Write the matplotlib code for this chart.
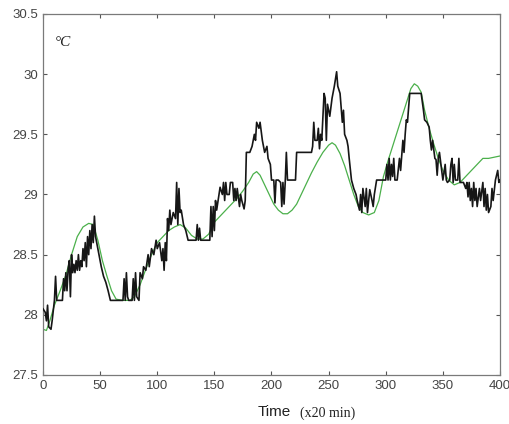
import numpy as np
import matplotlib.pyplot as plt

# %% DATA (time index in 20-min steps, temperature in deg C)
measured_t = [0, 2, 3, 4, 5, 7, 8, 10, 11, 12, 17, 18, 19, 20, 21, 22, 23, 24, 25, 26,
              27, 28, 29, 30, 31, 32, 33, 34, 35, 36, 37, 38, 39, 40, 41, 42, 43, 44, 45, 46,
              47, 49, 51, 53, 55, 57, 59,
              70, 71, 72, 73, 74, 75, 78, 79, 80, 81, 82, 84, 85, 87, 88, 90, 92, 93, 95, 97,
              99, 100, 102, 104, 105, 106, 107, 108, 109, 110, 111, 112, 114, 116, 117, 118, 119, 120, 121, 123,
              125, 127, 134, 135, 136, 137, 138, 146, 147, 148, 149, 150, 151, 152, 154, 155, 157, 158, 159, 160,
              161, 163, 164, 166, 167, 168, 169, 170, 172, 173, 174, 176, 177, 178, 181, 183, 185, 186, 187, 189,
              190, 192, 194, 196, 197, 199, 200, 202, 203, 204, 206, 208, 209, 210, 211, 212, 213, 214, 221, 222,
              235, 236, 237, 238, 240, 241, 242, 243, 244, 246, 247, 248, 249, 251, 253, 255, 257, 258, 260, 262,
              263, 264, 266, 267, 268, 270, 272, 274, 275, 277, 278, 279, 280, 282, 283, 284, 286, 288, 289, 290,
              292, 300, 301, 302, 303, 304, 305, 306, 307, 308, 310, 312, 313, 315, 316, 317, 318, 319, 321, 331,
              333, 334, 336, 338, 339, 340, 341, 343, 344, 345, 346, 347, 349, 350, 352, 353, 354, 356, 357, 358,
              359, 360, 361, 363, 364, 365, 368, 370, 371, 372, 373, 374, 375, 376, 377, 378, 379, 380, 382, 383,
              385, 386, 387, 388, 389, 390, 392, 393, 394, 396, 398, 399, 400]
measured_temp = [28.05, 28.02, 27.95, 28.08, 27.9, 27.88, 27.95, 28.12, 28.32, 28.12, 28.12, 28.3, 28.2, 28.35, 28.2, 28.38, 28.45, 28.15, 28.5, 28.35,
                 28.42, 28.35, 28.45, 28.37, 28.5, 28.37, 28.45, 28.4, 28.55, 28.45, 28.6, 28.4, 28.65, 28.5, 28.7, 28.55, 28.75, 28.6, 28.82, 28.65,
                 28.6, 28.5, 28.4, 28.32, 28.27, 28.2, 28.12,
                 28.12, 28.3, 28.12, 28.35, 28.15, 28.12, 28.12, 28.3, 28.12, 28.35, 28.15, 28.12, 28.35, 28.3, 28.4, 28.37, 28.5, 28.4, 28.55, 28.5,
                 28.62, 28.55, 28.6, 28.45, 28.55, 28.37, 28.6, 28.45, 28.8, 28.7, 28.87, 28.75, 28.85, 28.8, 29.1, 28.75, 29.05, 28.85, 28.87, 28.75,
                 28.7, 28.62, 28.62, 28.75, 28.62, 28.72, 28.62, 28.62, 28.9, 28.65, 28.9, 28.7, 28.95, 28.87, 29.0, 29.06, 29.0, 29.1, 28.95, 29.1,
                 29.0, 29.0, 29.1, 29.1, 28.95, 29.05, 28.95, 29.05, 28.9, 29.0, 28.95, 28.88, 28.95, 29.35, 29.35, 29.4, 29.5, 29.45, 29.6, 29.55,
                 29.6, 29.45, 29.35, 29.4, 29.3, 29.25, 29.12, 29.12, 28.93, 29.12, 29.12, 29.1, 28.9, 29.1, 28.92, 29.1, 29.35, 29.12, 29.12, 29.35,
                 29.35, 29.4, 29.6, 29.45, 29.45, 29.55, 29.38, 29.5, 29.45, 29.84, 29.8, 29.45, 29.75, 29.65, 29.8, 29.9, 30.02, 29.9, 29.84, 29.6,
                 29.7, 29.5, 29.45, 29.4, 29.3, 29.12, 29.05, 29.0, 28.95, 28.87, 29.0, 28.85, 29.05, 28.9, 29.05, 28.85, 29.04, 28.95, 28.9, 29.0,
                 29.12, 29.12, 29.25, 29.12, 29.3, 29.12, 29.25, 29.15, 29.3, 29.12, 29.12, 29.3, 29.2, 29.45, 29.35, 29.5, 29.62, 29.6, 29.84, 29.84,
                 29.7, 29.62, 29.6, 29.56, 29.45, 29.37, 29.45, 29.3, 29.29, 29.16, 29.3, 29.35, 29.2, 29.12, 29.25, 29.12, 29.1, 29.12, 29.25, 29.3,
                 29.1, 29.25, 29.12, 29.12, 29.3, 29.1, 29.1, 29.05, 29.1, 28.98, 29.1, 28.95, 29.05, 28.9, 29.1, 28.95, 29.05, 28.9, 29.05, 28.95,
                 29.1, 28.9, 29.05, 28.87, 29.0, 28.85, 28.9, 29.05, 28.95, 29.12, 29.2, 29.1, 29.12]

model_t = [0, 3, 6, 10, 15, 20, 25, 30, 35, 40, 44, 48, 52, 56, 60, 64, 70, 76, 80, 85,
           90, 95, 100, 105, 110, 115, 120, 125, 130, 135, 140, 145, 150, 155, 160, 165, 170, 175, 180, 184,
           187, 190, 194, 198, 202, 206, 210, 214, 218, 222, 226, 230, 235, 240, 245, 250, 253, 256, 260, 264,
           268, 272, 276, 280, 285, 290, 294, 298, 302, 306, 310, 314, 318, 322, 325, 328, 331, 334, 338, 342,
           346, 350, 355, 360, 365, 370, 375, 380, 385, 390, 395, 400]
model_temp = [27.88, 27.87, 27.95, 28.08, 28.2, 28.33, 28.5, 28.65, 28.73, 28.76, 28.75, 28.62, 28.45, 28.32, 28.2, 28.13, 28.12, 28.12, 28.15, 28.25,
              28.38, 28.5, 28.6, 28.65, 28.7, 28.73, 28.75, 28.72, 28.66, 28.63, 28.63, 28.67, 28.77, 28.82, 28.87, 28.92, 28.97, 29.03, 29.1, 29.17,
              29.19, 29.16, 29.08, 29.0, 28.92, 28.87, 28.84, 28.84, 28.87, 28.92, 29.0, 29.08, 29.18, 29.27, 29.35, 29.41, 29.43, 29.41, 29.34, 29.24,
              29.12, 29.0, 28.9, 28.85, 28.83, 28.85, 28.95, 29.15, 29.28, 29.4, 29.52, 29.64, 29.76, 29.88, 29.92, 29.9, 29.85, 29.7, 29.55, 29.42,
              29.3, 29.2, 29.12, 29.08, 29.1, 29.15, 29.2, 29.25, 29.3, 29.3, 29.31, 29.32]

x_ticks = [0, 50, 100, 150, 200, 250, 300, 350, 400]
y_ticks = [27.5, 28, 28.5, 29, 29.5, 30, 30.5]

# %% PLOT
plt.rcParams['font.family'] = ['Liberation Sans', 'DejaVu Sans']
fig = plt.figure(figsize=(5.1, 4.24), dpi=100)
ax = fig.add_axes([0.0843, 0.1156, 0.8961, 0.8514])

ax.plot(model_t, model_temp, color='#4bb04b', linewidth=0.9, zorder=2)
ax.plot(measured_t, measured_temp, color='#161616', linewidth=1.2, zorder=3)

ax.set_xlim(0, 400)
ax.set_ylim(27.5, 30.5)
ax.set_xticks(x_ticks)
ax.set_xticklabels([str(t) for t in x_ticks])
ax.set_yticks(y_ticks)
ax.set_yticklabels(['%g' % v for v in y_ticks])
ax.tick_params(direction='in', length=3, width=0.8, color='#555555',
               labelsize=9.5, labelcolor='#444444', top=True, right=True)
for spine in ax.spines.values():
    spine.set_color('#7a7a7a')
    spine.set_linewidth(0.9)

ax.text(0.026, 0.922, '°C', transform=ax.transAxes, fontsize=11,
        family='Liberation Serif', style='italic', color='#222222', va='center')
fig.text(0.505, 0.028, 'Time', fontsize=11, color='#222222', va='center')
fig.text(0.588, 0.026, '(x20 min)', fontsize=10, family='Liberation Serif',
         color='#222222', va='center')

fig.savefig('out.png', dpi=100)
